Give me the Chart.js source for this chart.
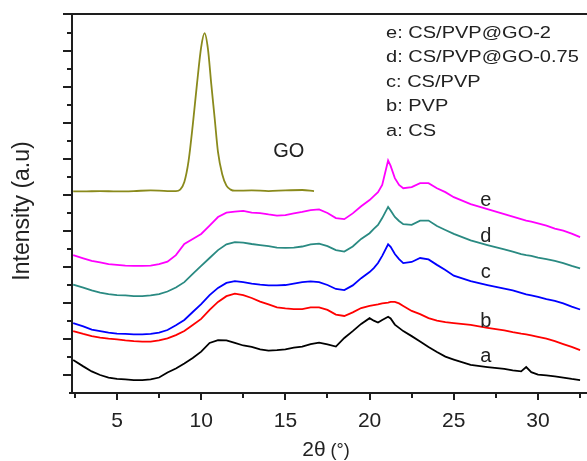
<!DOCTYPE html>
<html>
<head>
<meta charset="utf-8">
<script src="https://cdn.jsdelivr.net/npm/chart.js@4.4.1/dist/chart.umd.min.js"></script>
<style>
  html, body { margin: 0; padding: 0; background: #fff; }
  canvas { display: block; }
</style>
</head>
<body>
<canvas id="xrdChart" width="587" height="461"></canvas>
<script>
// 2theta positions shared by the five composite patterns
const twoTheta = [2.4, 3, 3.5, 4, 4.5, 5, 5.5, 6, 6.5, 7, 7.5, 8, 8.5, 9, 9.5, 10, 10.5, 11, 11.5, 12,
  12.5, 13, 13.5, 14, 14.5, 15, 15.5, 16, 16.5, 17, 17.5, 18, 18.5, 19, 19.5, 20, 20.25, 20.5, 20.75, 21.1,
  21.25, 21.5, 21.75, 22, 22.5, 23, 23.5, 24, 24.5, 25, 26, 27, 28, 28.5, 29, 29.3, 29.6, 30, 30.5, 31,
  31.5, 32, 32.5];

// a: CS
const cs = [9.2, 7.4, 6.0, 5.0, 4.3, 3.9, 3.8, 3.6, 3.6, 3.8, 4.3, 5.7, 6.8, 8.2, 9.7, 11.5, 13.9, 14.7, 14.6, 13.9,
  13.2, 12.8, 12.1, 11.8, 11.9, 12.1, 12.6, 12.9, 13.6, 14.0, 13.5, 12.9, 15.3, 17.2, 19.2, 20.8, 20.1, 19.6, 20.3, 21.2,
  20.7, 19.0, 18.1, 17.2, 15.8, 14.3, 12.8, 11.4, 10.1, 9.3, 7.8, 7.2, 6.7, 6.3, 6.0, 7.2, 5.8, 5.1, 4.9, 4.6,
  4.3, 3.9, 3.6];
// b: PVP
const pvp = [17.2, 16.4, 15.8, 15.4, 15.1, 14.9, 14.6, 14.4, 14.3, 14.3, 14.6, 15.2, 16.1, 17.2, 18.9, 20.6, 23.1, 25.3, 26.9, 27.6,
  27.2, 26.4, 25.4, 24.6, 23.8, 23.5, 23.3, 23.3, 23.8, 23.8, 23.1, 21.8, 21.4, 22.4, 23.6, 24.2, 24.4, 24.6, 24.9, 25.1,
  25.3, 25.3, 24.9, 24.2, 22.8, 21.9, 20.8, 20.1, 19.7, 19.4, 18.9, 18.1, 17.4, 16.9, 16.5, 16.3, 16.0, 15.6, 15.1, 14.4,
  13.6, 12.8, 11.9];
// c: CS/PVP
const csPvp = [19.4, 18.5, 17.6, 17.2, 16.8, 16.5, 16.4, 16.3, 16.3, 16.4, 16.8, 17.5, 18.8, 20.3, 22.5, 24.7, 27.2, 29.2, 30.6, 31.1,
  30.8, 30.4, 30.1, 29.9, 29.9, 30.0, 30.4, 30.8, 31.0, 30.8, 30.0, 28.9, 28.6, 29.9, 31.9, 33.6, 34.7, 36.1, 38.1, 41.3,
  40.6, 38.6, 37.2, 36.1, 36.4, 37.5, 37.1, 35.6, 34.2, 32.6, 31.1, 30.0, 29.0, 28.5, 27.8, 27.4, 27.1, 26.7, 26.1, 25.6,
  24.9, 24.0, 23.2];
// d: CS/PVP@GO-0.75
const csPvpGo075 = [30.1, 29.3, 28.5, 27.9, 27.5, 27.2, 27.1, 26.9, 26.9, 27.1, 27.5, 28.2, 29.3, 30.8, 33.1, 35.3, 37.5, 39.7, 41.3, 41.9,
  41.8, 41.4, 41.1, 40.8, 40.4, 40.3, 40.4, 40.7, 41.3, 41.5, 40.8, 39.7, 39.3, 40.7, 42.8, 44.4, 45.6, 46.7, 48.6, 51.7,
  50.7, 48.9, 47.8, 46.9, 46.7, 47.9, 47.9, 46.4, 45.3, 44.2, 42.4, 41.1, 39.9, 39.3, 38.6, 38.3, 38.1, 37.6, 37.2, 36.7,
  36.1, 35.3, 34.6];
// e: CS/PVP@GO-2
const csPvpGo2 = [38.3, 37.4, 36.7, 36.3, 35.8, 35.6, 35.4, 35.3, 35.3, 35.4, 35.8, 36.5, 38.3, 41.4, 42.8, 44.2, 46.5, 48.9, 50.1, 50.4,
  50.6, 50.1, 50.0, 49.6, 49.3, 49.4, 49.9, 50.3, 50.8, 51.0, 50.0, 48.6, 48.3, 49.9, 51.9, 53.6, 54.7, 55.8, 57.8, 64.6,
  63.1, 59.7, 57.8, 56.9, 57.2, 58.3, 58.3, 56.9, 55.8, 54.4, 52.5, 51.1, 49.7, 49.0, 48.3, 47.9, 47.6, 47.1, 46.5, 45.7,
  45.1, 44.3, 43.3];

// GO pattern (own sampling around the sharp 10.2 deg peak)
const goTwoTheta = [2.4, 3, 4, 5, 6, 7, 8, 8.5, 8.75, 9, 9.25, 9.5, 9.75, 10, 10.2, 10.4, 10.6, 10.8, 11, 11.25,
  11.5, 11.75, 12, 13, 14, 15, 16, 16.7];
const go = [56.0, 56.0, 56.1, 56.0, 56.1, 56.3, 56.1, 56.1, 56.5, 58.6, 64.4, 74.4, 85.8, 96.1, 100.0, 95.7, 85.8, 76.4, 66.9, 60.8,
  57.6, 56.5, 56.2, 56.3, 56.1, 56.3, 56.4, 56.1];

const legendLines = ["e: CS/PVP@GO-2", "d: CS/PVP@GO-0.75", "c: CS/PVP", "b: PVP", "a: CS"];
const curveNames = ["a", "b", "c", "d", "e"];
const xMajorTicks = [5, 10, 15, 20, 25, 30];
const xMinorTicks = [2.5, 7.5, 12.5, 17.5, 22.5, 27.5, 32.5];
const yMajorTicks = [5, 15, 25, 35, 45, 55, 65, 75, 85, 95];
const yMinorTicks = [10, 20, 30, 40, 50, 60, 70, 80, 90, 100];

function toPoints(xs, ys) {
  return xs.map((x, i) => ({ x: x, y: ys[i] }));
}

// where the a..e letters and the GO label sit, in data units
const curveLabelAt = { x: 26.9, y: [8.7, 18.4, 31.9, 42.0, 51.9] };
const goLabelAt = { x: 15.2, y: 65.6 };

const FONT = '"Liberation Sans", Arial, sans-serif';

const axesFrame = {
  id: "axesFrame",
  afterDatasetsDraw(chart) {
    const { ctx, chartArea: area } = chart;
    const xs = chart.scales.x;
    const ys = chart.scales.y;
    ctx.save();

    ctx.strokeStyle = "#1e1e1e";
    ctx.lineWidth = 2;
    ctx.beginPath();
    ctx.moveTo(area.left - 9, area.top);
    ctx.lineTo(area.right, area.top);
    ctx.moveTo(area.left, area.top);
    ctx.lineTo(area.left, area.bottom);
    ctx.moveTo(area.left - 3, area.bottom);
    ctx.lineTo(area.right, area.bottom);
    xMajorTicks.forEach(v => {
      const p = Math.round(xs.getPixelForValue(v));
      ctx.moveTo(p, area.bottom);
      ctx.lineTo(p, area.bottom + 7);
    });
    xMinorTicks.forEach(v => {
      const p = Math.round(xs.getPixelForValue(v));
      ctx.moveTo(p, area.bottom);
      ctx.lineTo(p, area.bottom + 5);
    });
    yMajorTicks.forEach(v => {
      const p = Math.round(ys.getPixelForValue(v));
      ctx.moveTo(area.left, p);
      ctx.lineTo(area.left - 9, p);
    });
    yMinorTicks.forEach(v => {
      const p = Math.round(ys.getPixelForValue(v));
      ctx.moveTo(area.left, p);
      ctx.lineTo(area.left - 5, p);
    });
    ctx.stroke();

    ctx.fillStyle = "#222";
    ctx.textAlign = "center";
    ctx.textBaseline = "alphabetic";

    // tick labels
    ctx.font = "21px " + FONT;
    xMajorTicks.forEach(v => {
      ctx.fillText(String(v), xs.getPixelForValue(v), area.bottom + 34);
    });

    // x title: 2θ (°)
    ctx.font = "21px " + FONT;
    const w1 = ctx.measureText("2θ").width;
    ctx.font = "18px " + FONT;
    const w2 = ctx.measureText(" (°)").width;
    const startX = 326 - (w1 + w2) / 2;
    ctx.textAlign = "left";
    ctx.font = "21px " + FONT;
    ctx.fillText("2θ", startX, area.bottom + 63);
    ctx.font = "18px " + FONT;
    ctx.fillText(" (°)", startX + w1, area.bottom + 63);

    // y title
    ctx.save();
    ctx.translate(23, 211);
    ctx.rotate(-Math.PI / 2);
    ctx.textAlign = "center";
    ctx.textBaseline = "middle";
    ctx.font = "23px " + FONT;
    ctx.fillText("Intensity (a.u)", 0, 0);
    ctx.restore();

    // key in the top right corner (glyphs are wide in the original)
    ctx.save();
    ctx.translate(386, 0);
    ctx.scale(1.23, 1);
    ctx.textAlign = "left";
    ctx.font = "16.3px " + FONT;
    legendLines.forEach((t, i) => {
      ctx.fillText(t, 0, area.top + 23.5 + i * 24.5);
    });
    ctx.restore();

    // curve letters
    ctx.textAlign = "center";
    ctx.font = "20px " + FONT;
    curveNames.forEach((n, i) => {
      ctx.fillText(n, xs.getPixelForValue(curveLabelAt.x), ys.getPixelForValue(curveLabelAt.y[i]));
    });
    ctx.fillText("GO", xs.getPixelForValue(goLabelAt.x), ys.getPixelForValue(goLabelAt.y));

    ctx.restore();
  }
};

function line(data, color, extra) {
  return Object.assign({
    data: data,
    borderColor: color,
    borderWidth: 1.8,
    pointRadius: 0,
    fill: false,
    tension: 0
  }, extra || {});
}

new Chart(document.getElementById("xrdChart"), {
  type: "line",
  data: {
    datasets: [
      line(toPoints(goTwoTheta, go), "#8a8a1c", { cubicInterpolationMode: "monotone" }),
      line(toPoints(twoTheta, csPvpGo2), "#ff00ff"),
      line(toPoints(twoTheta, csPvpGo075), "#2a8a82"),
      line(toPoints(twoTheta, csPvp), "#0000ff"),
      line(toPoints(twoTheta, pvp), "#ff0000"),
      line(toPoints(twoTheta, cs), "#000000"),
    ],
  },
  options: {
    responsive: false,
    animation: false,
    layout: {
      padding: { left: 72, right: 0, top: 14, bottom: 68 },
    },
    scales: {
      x: { type: "linear", display: false, min: 2.33, max: 32.91 },
      y: { type: "linear", display: false, min: 0, max: 105.3 },
    },
    plugins: {
      legend: { display: false },
      tooltip: { enabled: false },
    },
  },
  plugins: [axesFrame],
});
</script>
</body>
</html>
